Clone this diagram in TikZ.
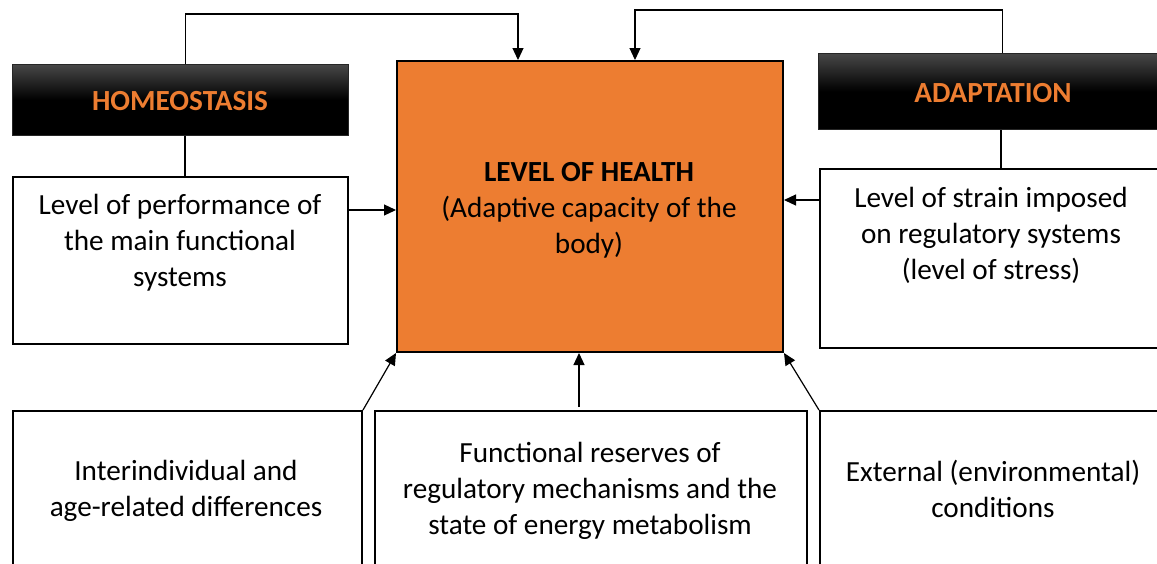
\documentclass[tikz,border=0pt]{standalone}
\usepackage{fontspec}
\setmainfont{Carlito}
\usetikzlibrary{arrows.meta}
\definecolor{accent}{HTML}{ED7D31}
\begin{document}
\begin{tikzpicture}[x=1pt,y=-1pt,
  frame/.style={draw=black, line width=2pt, fill=white, rectangle, inner sep=0pt, anchor=north west},
  headbox/.style={draw=black!85, line width=1pt, rectangle, inner sep=0pt, anchor=north west,
    top color=black!72, bottom color=black, middle color=black},
  healthbox/.style={draw=black, line width=2pt, fill=accent, rectangle, inner sep=0pt, anchor=north west},
  body/.style={align=center, font=\fontsize{29.2}{36}\selectfont, inner sep=0pt},
  headtext/.style={font=\fontsize{29.2}{36}\selectfont\bfseries, text=accent, inner sep=0pt},
  link/.style={line width=1.2pt, draw=black},
  arr/.style={link, -{Triangle[length=12pt,width=11pt]}}]
\useasboundingbox (0,0) rectangle (1157,563);
\clip (0,0) rectangle (1157,563);

% central box
\node[healthbox, minimum width=386pt, minimum height=291pt] (health) at (396,60) {};
\node[body] (healthtxt) at (589,210) {\textbf{LEVEL OF HEALTH}\\(Adaptive capacity of the\\body)};

% headings
\node[headbox, minimum width=336pt, minimum height=71pt] (home) at (12,64) {};
\node[headtext] (hometxt) at (180,101) {HOMEOSTASIS};
\node[headbox, minimum width=352pt, minimum height=76pt] (adapt) at (818,53) {};
\node[headtext] (adapttxt) at (993,93) {ADAPTATION};

% side boxes
\node[frame, minimum width=335pt, minimum height=167pt] (perf) at (12,176) {};
\node[body] (perftxt) at (180,243) {Level of performance of\\the main functional\\systems};
\node[frame, minimum width=360pt, minimum height=179pt] (strain) at (819,168) {};
\node[body] (straintxt) at (991,235.5) {Level of strain imposed\\on regulatory systems\\(level of stress)};

% bottom boxes
\node[frame, minimum width=349pt, minimum height=200pt] (indiv) at (12,410) {};
\node[body] (indivtxt) at (186,490.5) {Interindividual and\\age-related differences};
\node[frame, minimum width=432pt, minimum height=200pt] (reserves) at (374,410) {};
\node[body] (reservestxt) at (590,491) {Functional reserves of\\regulatory mechanisms and the\\state of energy metabolism};
\node[frame, minimum width=360pt, minimum height=200pt] (extern) at (819,410) {};
\node[body] (externtxt) at (993,488.5) {External (environmental)\\conditions};

% heading links
\draw[link] (home.south -| 185,0) -- (perf.north -| 185,0);
\draw[link] (adapt.south -| 1001,0) -- (strain.north -| 1001,0);
\draw[arr] ([xshift=5pt]home.north) -- ++(0,-50) -| ([xshift=-72pt]health.north);
\draw[arr] ([xshift=8pt]adapt.north) -- ++(0,-43) -| ([xshift=45pt]health.north);

% side arrows
\draw[arr] ([yshift=-34pt]perf.north east) coordinate (p) -- (p -| health.west);
\draw[arr] ([yshift=-32pt]strain.north west) coordinate (s) -- (s -| health.east);

% bottom arrows
\coordinate (m) at ([xshift=-11pt]health.south);
\draw[arr] (indiv.north east) -- (health.south west);
\draw[arr] ([yshift=3pt]m |- reserves.north) -- (m);
\draw[arr] (extern.north west) -- (health.south east);
\end{tikzpicture}
\end{document}
